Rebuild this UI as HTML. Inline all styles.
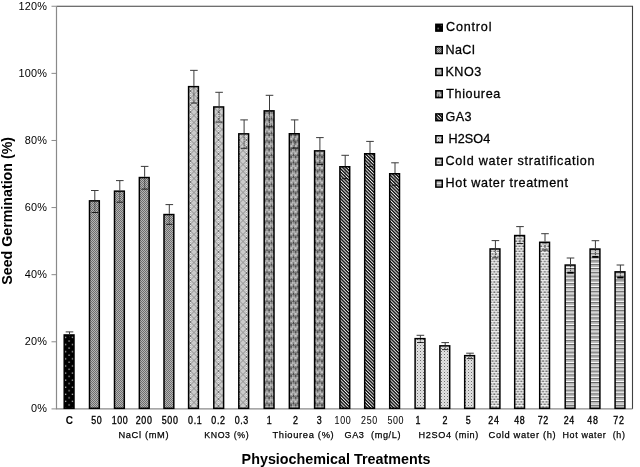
<!DOCTYPE html>
<html><head><meta charset="utf-8"><title>Seed Germination</title>
<style>
html,body{margin:0;padding:0;background:#fff;}
body{width:640px;height:467px;overflow:hidden;}
svg{display:block;}
text{font-family:"Liberation Sans",Arial,sans-serif;fill:#000;}
</style></head><body>
<svg width="640" height="467" viewBox="0 0 640 467">
<defs>
<pattern id="pCtl" width="7.1" height="7.1" patternUnits="userSpaceOnUse" x="64.5" y="336.4">
 <rect width="7.1" height="7.1" fill="#000"/>
 <rect x="0.5" y="0.5" width="1.2" height="1.3" fill="#f0f0f0"/>
 <rect x="3.8" y="4.1" width="1.6" height="0.9" fill="#c8c8c8"/>
</pattern>
<pattern id="pNaCl" width="2" height="2" patternUnits="userSpaceOnUse">
 <rect width="2" height="2" fill="#b4b4b4"/>
 <rect width="1" height="1" fill="#6e6e6e"/><rect x="1" y="1" width="1" height="1" fill="#6e6e6e"/>
</pattern>
<pattern id="pKNO" width="7" height="7" patternUnits="userSpaceOnUse" x="1.5" y="0">
 <rect width="7" height="7" fill="#e6e6e6"/>
 <path d="M0 0h1v1h-1zM2 0h1v1h-1zM4 0h1v1h-1zM6 0h1v1h-1zM1 1h1v1h-1zM3 1h1v1h-1zM5 1h1v1h-1zM0 2h1v1h-1zM2 2h1v1h-1zM4 2h1v1h-1zM6 2h1v1h-1zM1 3h1v1h-1zM3 3h1v1h-1zM5 3h1v1h-1zM0 4h1v1h-1zM2 4h1v1h-1zM4 4h1v1h-1zM6 4h1v1h-1zM1 5h1v1h-1zM3 5h1v1h-1zM5 5h1v1h-1zM0 6h1v1h-1zM2 6h1v1h-1zM4 6h1v1h-1zM6 6h1v1h-1z" fill="#b0b0b0"/>
 <path d="M0 0L7 7M7 0L0 7" stroke="#4a4a4a" stroke-width="0.6"/>
</pattern>
<pattern id="pThio" width="4.4" height="7.3" patternUnits="userSpaceOnUse" x="0.8" y="0">
 <rect width="4.4" height="7.3" fill="#7c7c7c"/>
 <path d="M0 0L4.4 3.65L0 7.3M4.4 0L0 3.65L4.4 7.3" stroke="#cacaca" stroke-width="1.0" fill="none"/>
 <circle cx="2.2" cy="5.5" r="0.85" fill="#a8a8a8"/>
 <circle cx="0" cy="3.65" r="0.9" fill="#2a2a2a"/><circle cx="4.4" cy="3.65" r="0.9" fill="#2a2a2a"/>
 <circle cx="2.2" cy="1.8" r="0.8" fill="#2a2a2a"/>
</pattern>
<pattern id="pGA" width="2.35" height="4" patternUnits="userSpaceOnUse" patternTransform="rotate(-45)">
 <rect width="2.35" height="4" fill="#0c0c0c"/>
 <rect x="0" y="0" width="0.95" height="4" fill="#f4f4f4"/>
</pattern>
<pattern id="pH2" width="3" height="3" patternUnits="userSpaceOnUse">
 <rect width="3" height="3" fill="#e2e2e2"/>
 <rect x="0" y="0" width="1" height="1" fill="#6e6e6e"/>
 <rect x="1.5" y="1.5" width="1" height="1" fill="#b4b4b4"/>
</pattern>
<pattern id="pCold" width="3.6" height="5.1" patternUnits="userSpaceOnUse" x="0.2" y="0.5">
 <rect width="3.6" height="5.1" fill="#f4f4f4"/>
 <rect x="0.2" y="0.4" width="1.6" height="1.1" fill="#3a3a3a"/>
 <rect x="2.0" y="2.95" width="1.6" height="1.1" fill="#3a3a3a"/>
 <rect x="2.0" y="0.4" width="1.6" height="1.1" fill="#b0b0b0"/>
 <rect x="0.2" y="2.95" width="1.6" height="1.1" fill="#b0b0b0"/>
</pattern>
<pattern id="pHot" width="4" height="3.8" patternUnits="userSpaceOnUse" y="1">
 <rect width="4" height="3.8" fill="#bababa"/>
 <rect y="0" width="4" height="1" fill="#fcfcfc"/>
 <rect y="1" width="4" height="0.9" fill="#5a5a5a"/>
</pattern>
</defs>

<path d="M56.5 6.25H632.5V408.9" fill="none" stroke="#404040" stroke-width="1.1"/>
<path d="M56.5 6.25V408.9H632.5" fill="none" stroke="#8a8a8a" stroke-width="1.2"/>
<line x1="51.5" y1="408.90" x2="56.5" y2="408.90" stroke="#8a8a8a" stroke-width="1"/>
<text x="47.1" y="412.20" font-size="10.9" text-anchor="end" letter-spacing="0.2">0%</text>
<line x1="51.5" y1="341.79" x2="56.5" y2="341.79" stroke="#8a8a8a" stroke-width="1"/>
<text x="47.1" y="345.09" font-size="10.9" text-anchor="end" letter-spacing="0.2">20%</text>
<line x1="51.5" y1="274.68" x2="56.5" y2="274.68" stroke="#8a8a8a" stroke-width="1"/>
<text x="47.1" y="277.98" font-size="10.9" text-anchor="end" letter-spacing="0.2">40%</text>
<line x1="51.5" y1="207.57" x2="56.5" y2="207.57" stroke="#8a8a8a" stroke-width="1"/>
<text x="47.1" y="210.88" font-size="10.9" text-anchor="end" letter-spacing="0.2">60%</text>
<line x1="51.5" y1="140.47" x2="56.5" y2="140.47" stroke="#8a8a8a" stroke-width="1"/>
<text x="47.1" y="143.77" font-size="10.9" text-anchor="end" letter-spacing="0.2">80%</text>
<line x1="51.5" y1="73.36" x2="56.5" y2="73.36" stroke="#8a8a8a" stroke-width="1"/>
<text x="47.1" y="76.66" font-size="10.9" text-anchor="end" letter-spacing="0.2">100%</text>
<line x1="51.5" y1="6.25" x2="56.5" y2="6.25" stroke="#8a8a8a" stroke-width="1"/>
<text x="47.1" y="9.55" font-size="10.9" text-anchor="end" letter-spacing="0.2">120%</text>
<rect x="64.20" y="334.95" width="9.8" height="73.35" fill="url(#pCtl)" stroke="#000" stroke-width="1.5"/>
<rect x="89.50" y="200.85" width="9.8" height="207.45" fill="url(#pNaCl)" stroke="#000" stroke-width="1.5"/>
<rect x="114.50" y="191.15" width="9.8" height="217.15" fill="url(#pNaCl)" stroke="#000" stroke-width="1.5"/>
<rect x="139.35" y="177.55" width="9.8" height="230.75" fill="url(#pNaCl)" stroke="#000" stroke-width="1.5"/>
<rect x="164.00" y="214.55" width="9.8" height="193.75" fill="url(#pNaCl)" stroke="#000" stroke-width="1.5"/>
<rect x="188.60" y="86.65" width="9.8" height="321.65" fill="url(#pKNO)" stroke="#000" stroke-width="1.5"/>
<rect x="213.80" y="106.95" width="9.8" height="301.35" fill="url(#pKNO)" stroke="#000" stroke-width="1.5"/>
<rect x="238.80" y="133.85" width="9.8" height="274.45" fill="url(#pKNO)" stroke="#000" stroke-width="1.5"/>
<rect x="264.20" y="110.85" width="9.8" height="297.45" fill="url(#pThio)" stroke="#000" stroke-width="1.5"/>
<rect x="289.35" y="133.75" width="9.8" height="274.55" fill="url(#pThio)" stroke="#000" stroke-width="1.5"/>
<rect x="314.60" y="150.85" width="9.8" height="257.45" fill="url(#pThio)" stroke="#000" stroke-width="1.5"/>
<rect x="339.90" y="166.75" width="9.8" height="241.55" fill="url(#pGA)" stroke="#000" stroke-width="1.5"/>
<rect x="364.70" y="153.75" width="9.8" height="254.55" fill="url(#pGA)" stroke="#000" stroke-width="1.5"/>
<rect x="389.70" y="173.75" width="9.8" height="234.55" fill="url(#pGA)" stroke="#000" stroke-width="1.5"/>
<rect x="415.10" y="338.65" width="9.8" height="69.65" fill="url(#pH2)" stroke="#000" stroke-width="1.5"/>
<rect x="439.90" y="345.85" width="9.8" height="62.45" fill="url(#pH2)" stroke="#000" stroke-width="1.5"/>
<rect x="464.70" y="355.65" width="9.8" height="52.65" fill="url(#pH2)" stroke="#000" stroke-width="1.5"/>
<rect x="490.10" y="248.95" width="9.8" height="159.35" fill="url(#pCold)" stroke="#000" stroke-width="1.5"/>
<rect x="514.70" y="235.55" width="9.8" height="172.75" fill="url(#pCold)" stroke="#000" stroke-width="1.5"/>
<rect x="539.70" y="242.30" width="9.8" height="166.00" fill="url(#pCold)" stroke="#000" stroke-width="1.5"/>
<rect x="565.20" y="265.05" width="9.8" height="143.25" fill="url(#pHot)" stroke="#000" stroke-width="1.5"/>
<rect x="590.10" y="249.05" width="9.8" height="159.25" fill="url(#pHot)" stroke="#000" stroke-width="1.5"/>
<rect x="615.10" y="271.85" width="9.8" height="136.45" fill="url(#pHot)" stroke="#000" stroke-width="1.5"/>
<path d="M69.50 331.90V334.20M65.70 331.90H73.30" stroke="#3a3a3a" stroke-width="1" fill="none"/>
<path d="M69.50 335.70V338.70" stroke="#222" stroke-width="0.8" fill="none" stroke-dasharray="1.2 0.8"/>
<path d="M66.30 338.70H72.70" stroke="#000" stroke-width="0.8" fill="none"/>
<path d="M94.80 190.50V200.10M91.00 190.50H98.60" stroke="#3a3a3a" stroke-width="1" fill="none"/>
<path d="M94.80 201.60V212.50" stroke="#222" stroke-width="0.8" fill="none" stroke-dasharray="1.2 0.8"/>
<path d="M91.60 212.50H98.00" stroke="#000" stroke-width="0.8" fill="none"/>
<path d="M119.80 180.60V190.40M116.00 180.60H123.60" stroke="#3a3a3a" stroke-width="1" fill="none"/>
<path d="M119.80 191.90V202.20" stroke="#222" stroke-width="0.8" fill="none" stroke-dasharray="1.2 0.8"/>
<path d="M116.60 202.20H123.00" stroke="#000" stroke-width="0.8" fill="none"/>
<path d="M144.65 166.40V176.80M140.85 166.40H148.45" stroke="#3a3a3a" stroke-width="1" fill="none"/>
<path d="M144.65 178.30V189.10" stroke="#222" stroke-width="0.8" fill="none" stroke-dasharray="1.2 0.8"/>
<path d="M141.45 189.10H147.85" stroke="#000" stroke-width="0.8" fill="none"/>
<path d="M169.30 204.60V213.80M165.50 204.60H173.10" stroke="#3a3a3a" stroke-width="1" fill="none"/>
<path d="M169.30 215.30V224.30" stroke="#222" stroke-width="0.8" fill="none" stroke-dasharray="1.2 0.8"/>
<path d="M166.10 224.30H172.50" stroke="#000" stroke-width="0.8" fill="none"/>
<path d="M193.90 70.35V85.90M190.10 70.35H197.70" stroke="#3a3a3a" stroke-width="1" fill="none"/>
<path d="M193.90 87.40V103.05" stroke="#222" stroke-width="0.8" fill="none" stroke-dasharray="1.2 0.8"/>
<path d="M190.70 103.05H197.10" stroke="#000" stroke-width="0.8" fill="none"/>
<path d="M219.10 92.30V106.20M215.30 92.30H222.90" stroke="#3a3a3a" stroke-width="1" fill="none"/>
<path d="M219.10 107.70V122.10" stroke="#222" stroke-width="0.8" fill="none" stroke-dasharray="1.2 0.8"/>
<path d="M215.90 122.10H222.30" stroke="#000" stroke-width="0.8" fill="none"/>
<path d="M244.10 119.90V133.10M240.30 119.90H247.90" stroke="#3a3a3a" stroke-width="1" fill="none"/>
<path d="M244.10 134.60V148.30" stroke="#222" stroke-width="0.8" fill="none" stroke-dasharray="1.2 0.8"/>
<path d="M240.90 148.30H247.30" stroke="#000" stroke-width="0.8" fill="none"/>
<path d="M269.50 95.30V110.10M265.70 95.30H273.30" stroke="#3a3a3a" stroke-width="1" fill="none"/>
<path d="M269.50 111.60V126.90" stroke="#222" stroke-width="0.8" fill="none" stroke-dasharray="1.2 0.8"/>
<path d="M266.30 126.90H272.70" stroke="#000" stroke-width="0.8" fill="none"/>
<path d="M294.65 119.90V133.00M290.85 119.90H298.45" stroke="#3a3a3a" stroke-width="1" fill="none"/>
<path d="M294.65 134.50V148.10" stroke="#222" stroke-width="0.8" fill="none" stroke-dasharray="1.2 0.8"/>
<path d="M291.45 148.10H297.85" stroke="#000" stroke-width="0.8" fill="none"/>
<path d="M319.90 137.60V150.10M316.10 137.60H323.70" stroke="#3a3a3a" stroke-width="1" fill="none"/>
<path d="M319.90 151.60V164.60" stroke="#222" stroke-width="0.8" fill="none" stroke-dasharray="1.2 0.8"/>
<path d="M316.70 164.60H323.10" stroke="#000" stroke-width="0.8" fill="none"/>
<path d="M345.20 155.30V166.00M341.40 155.30H349.00" stroke="#3a3a3a" stroke-width="1" fill="none"/>
<path d="M345.20 167.50V178.70" stroke="#222" stroke-width="0.8" fill="none" stroke-dasharray="1.2 0.8"/>
<path d="M342.00 178.70H348.40" stroke="#000" stroke-width="0.8" fill="none"/>
<path d="M370.00 141.40V153.00M366.20 141.40H373.80" stroke="#3a3a3a" stroke-width="1" fill="none"/>
<path d="M370.00 154.50V166.60" stroke="#222" stroke-width="0.8" fill="none" stroke-dasharray="1.2 0.8"/>
<path d="M366.80 166.60H373.20" stroke="#000" stroke-width="0.8" fill="none"/>
<path d="M395.00 162.80V173.00M391.20 162.80H398.80" stroke="#3a3a3a" stroke-width="1" fill="none"/>
<path d="M395.00 174.50V185.20" stroke="#222" stroke-width="0.8" fill="none" stroke-dasharray="1.2 0.8"/>
<path d="M391.80 185.20H398.20" stroke="#000" stroke-width="0.8" fill="none"/>
<path d="M420.40 335.30V337.90M416.60 335.30H424.20" stroke="#3a3a3a" stroke-width="1" fill="none"/>
<path d="M420.40 339.40V342.50" stroke="#222" stroke-width="0.8" fill="none" stroke-dasharray="1.2 0.8"/>
<path d="M417.20 342.50H423.60" stroke="#000" stroke-width="0.8" fill="none"/>
<path d="M445.20 342.60V345.10M441.40 342.60H449.00" stroke="#3a3a3a" stroke-width="1" fill="none"/>
<path d="M445.20 346.60V349.60" stroke="#222" stroke-width="0.8" fill="none" stroke-dasharray="1.2 0.8"/>
<path d="M442.00 349.60H448.40" stroke="#000" stroke-width="0.8" fill="none"/>
<path d="M470.00 353.20V354.90M466.20 353.20H473.80" stroke="#3a3a3a" stroke-width="1" fill="none"/>
<path d="M470.00 356.40V358.60" stroke="#222" stroke-width="0.8" fill="none" stroke-dasharray="1.2 0.8"/>
<path d="M466.80 358.60H473.20" stroke="#000" stroke-width="0.8" fill="none"/>
<path d="M495.40 240.60V248.20M491.60 240.60H499.20" stroke="#3a3a3a" stroke-width="1" fill="none"/>
<path d="M495.40 249.70V257.80" stroke="#222" stroke-width="0.8" fill="none" stroke-dasharray="1.2 0.8"/>
<path d="M492.20 257.80H498.60" stroke="#000" stroke-width="0.8" fill="none"/>
<path d="M520.00 226.60V234.80M516.20 226.60H523.80" stroke="#3a3a3a" stroke-width="1" fill="none"/>
<path d="M520.00 236.30V243.50" stroke="#222" stroke-width="0.8" fill="none" stroke-dasharray="1.2 0.8"/>
<path d="M516.80 243.50H523.20" stroke="#000" stroke-width="0.8" fill="none"/>
<path d="M545.00 233.70V241.55M541.20 233.70H548.80" stroke="#3a3a3a" stroke-width="1" fill="none"/>
<path d="M545.00 243.05V250.10" stroke="#222" stroke-width="0.8" fill="none" stroke-dasharray="1.2 0.8"/>
<path d="M541.80 250.10H548.20" stroke="#000" stroke-width="0.8" fill="none"/>
<path d="M570.50 258.00V264.30M566.70 258.00H574.30" stroke="#3a3a3a" stroke-width="1" fill="none"/>
<path d="M570.50 265.80V272.70" stroke="#222" stroke-width="0.8" fill="none" stroke-dasharray="1.2 0.8"/>
<path d="M567.30 272.70H573.70" stroke="#000" stroke-width="1.9" fill="none"/>
<path d="M595.40 240.70V248.30M591.60 240.70H599.20" stroke="#3a3a3a" stroke-width="1" fill="none"/>
<path d="M595.40 249.80V256.90" stroke="#222" stroke-width="0.8" fill="none" stroke-dasharray="1.2 0.8"/>
<path d="M592.20 256.90H598.60" stroke="#000" stroke-width="1.9" fill="none"/>
<path d="M620.40 265.00V271.10M616.60 265.00H624.20" stroke="#3a3a3a" stroke-width="1" fill="none"/>
<path d="M620.40 272.60V277.50" stroke="#222" stroke-width="0.8" fill="none" stroke-dasharray="1.2 0.8"/>
<path d="M617.20 277.50H623.60" stroke="#000" stroke-width="1.9" fill="none"/>
<text transform="translate(69.47 423.6)" font-size="10.1" text-anchor="middle" fill="#000" font-weight="bold">C</text>
<text transform="translate(96.77 423.6) scale(0.88 1)" font-size="10.1" letter-spacing="0.75" text-anchor="middle" fill="#000" stroke="#000" stroke-width="0.32">50</text>
<text transform="translate(120.06 423.6) scale(0.88 1)" font-size="10.1" letter-spacing="0.75" text-anchor="middle" fill="#000" stroke="#000" stroke-width="0.32">100</text>
<text transform="translate(144.10 423.6) scale(0.88 1)" font-size="10.1" letter-spacing="0.75" text-anchor="middle" fill="#000" stroke="#000" stroke-width="0.32">200</text>
<text transform="translate(170.15 423.6) scale(0.88 1)" font-size="10.1" letter-spacing="0.75" text-anchor="middle" fill="#000" stroke="#000" stroke-width="0.32">500</text>
<text transform="translate(195.19 423.6) scale(0.88 1)" font-size="10.1" letter-spacing="0.75" text-anchor="middle" fill="#000" stroke="#000" stroke-width="0.32">0.1</text>
<text transform="translate(218.48 423.6) scale(0.88 1)" font-size="10.1" letter-spacing="0.75" text-anchor="middle" fill="#000" stroke="#000" stroke-width="0.32">0.2</text>
<text transform="translate(241.78 423.6) scale(0.88 1)" font-size="10.1" letter-spacing="0.75" text-anchor="middle" fill="#000" stroke="#000" stroke-width="0.32">0.3</text>
<text transform="translate(269.57 423.6) scale(0.88 1)" font-size="10.1" letter-spacing="0.75" text-anchor="middle" fill="#000" stroke="#000" stroke-width="0.32">1</text>
<text transform="translate(295.86 423.6) scale(0.88 1)" font-size="10.1" letter-spacing="0.75" text-anchor="middle" fill="#000" stroke="#000" stroke-width="0.32">2</text>
<text transform="translate(319.66 423.6) scale(0.88 1)" font-size="10.1" letter-spacing="0.75" text-anchor="middle" fill="#000" stroke="#000" stroke-width="0.32">3</text>
<text transform="translate(342.95 423.6) scale(0.88 1)" font-size="10.1" letter-spacing="0.75" text-anchor="middle" fill="#555" stroke="#555" stroke-width="0.1">100</text>
<text transform="translate(369.49 423.6) scale(0.88 1)" font-size="10.1" letter-spacing="0.75" text-anchor="middle" fill="#555" stroke="#555" stroke-width="0.1">250</text>
<text transform="translate(395.79 423.6) scale(0.88 1)" font-size="10.1" letter-spacing="0.75" text-anchor="middle" fill="#555" stroke="#555" stroke-width="0.1">500</text>
<text transform="translate(418.33 423.6) scale(0.88 1)" font-size="10.1" letter-spacing="0.75" text-anchor="middle" fill="#000" stroke="#000" stroke-width="0.32">1</text>
<text transform="translate(445.37 423.6) scale(0.88 1)" font-size="10.1" letter-spacing="0.75" text-anchor="middle" fill="#000" stroke="#000" stroke-width="0.32">2</text>
<text transform="translate(468.67 423.6) scale(0.88 1)" font-size="10.1" letter-spacing="0.75" text-anchor="middle" fill="#000" stroke="#000" stroke-width="0.32">5</text>
<text transform="translate(493.96 423.6) scale(0.88 1)" font-size="10.1" letter-spacing="0.75" text-anchor="middle" fill="#000" stroke="#000" stroke-width="0.32">24</text>
<text transform="translate(519.75 423.6) scale(0.88 1)" font-size="10.1" letter-spacing="0.75" text-anchor="middle" fill="#000" stroke="#000" stroke-width="0.32">48</text>
<text transform="translate(543.30 423.6) scale(0.88 1)" font-size="10.1" letter-spacing="0.75" text-anchor="middle" fill="#000" stroke="#000" stroke-width="0.32">72</text>
<text transform="translate(569.34 423.6) scale(0.88 1)" font-size="10.1" letter-spacing="0.75" text-anchor="middle" fill="#000" stroke="#000" stroke-width="0.32">24</text>
<text transform="translate(592.88 423.6) scale(0.88 1)" font-size="10.1" letter-spacing="0.75" text-anchor="middle" fill="#000" stroke="#000" stroke-width="0.32">48</text>
<text transform="translate(618.93 423.6) scale(0.88 1)" font-size="10.1" letter-spacing="0.75" text-anchor="middle" fill="#000" stroke="#000" stroke-width="0.32">72</text>
<text x="118.40" y="438.3" font-size="9.9" letter-spacing="0.7" stroke="#000" stroke-width="0.25" textLength="50.80" lengthAdjust="spacingAndGlyphs">NaCl (mM)</text>
<text x="204.20" y="438.3" font-size="9.9" letter-spacing="0.7" stroke="#000" stroke-width="0.25" textLength="45.00" lengthAdjust="spacingAndGlyphs">KNO3 (%)</text>
<text x="272.40" y="438.3" font-size="9.9" letter-spacing="0.7" stroke="#000" stroke-width="0.25" textLength="62.00" lengthAdjust="spacingAndGlyphs">Thiourea (%)</text>
<text x="344.40" y="438.3" font-size="9.9" letter-spacing="0.7" stroke="#000" stroke-width="0.25" textLength="56.80" lengthAdjust="spacingAndGlyphs">GA3&#160; (mg/L)</text>
<text x="418.60" y="438.3" font-size="9.9" letter-spacing="0.7" stroke="#000" stroke-width="0.25" textLength="60.40" lengthAdjust="spacingAndGlyphs">H2SO4 (min)</text>
<text x="488.50" y="438.3" font-size="9.9" letter-spacing="0.7" stroke="#000" stroke-width="0.25" textLength="67.90" lengthAdjust="spacingAndGlyphs">Cold water (h)</text>
<text x="562.50" y="438.3" font-size="9.9" letter-spacing="0.7" stroke="#000" stroke-width="0.25" textLength="63.00" lengthAdjust="spacingAndGlyphs">Hot water&#160; (h)</text>
<text x="241.6" y="463.6" font-size="14.4" font-weight="bold" textLength="188.9" lengthAdjust="spacingAndGlyphs">Physiochemical Treatments</text>
<text transform="translate(12.4 284.7) rotate(-90)" x="0" y="0" font-size="15" font-weight="bold" textLength="147.7" lengthAdjust="spacingAndGlyphs">Seed Germination (%)</text>
<rect x="435.85" y="24.30" width="6.4" height="6.8" fill="url(#pCtl)" stroke="#000" stroke-width="1.5"/>
<text x="446" y="31.3" font-size="12.6" stroke="#000" stroke-width="0.28" textLength="45.5" lengthAdjust="spacing">Control</text>
<rect x="435.85" y="46.70" width="6.4" height="6.8" fill="url(#pNaCl)" stroke="#000" stroke-width="1.5"/>
<text x="445.4" y="53.7" font-size="12.6" stroke="#000" stroke-width="0.28" textLength="29.3" lengthAdjust="spacing">NaCl</text>
<rect x="435.85" y="68.60" width="6.4" height="6.8" fill="url(#pKNO)" stroke="#000" stroke-width="1.5"/>
<text x="445.4" y="75.6" font-size="12.6" stroke="#000" stroke-width="0.28" textLength="35.9" lengthAdjust="spacing">KNO3</text>
<rect x="435.85" y="90.80" width="6.4" height="6.8" fill="url(#pThio)" stroke="#000" stroke-width="1.5"/>
<text x="446.2" y="97.8" font-size="12.6" stroke="#000" stroke-width="0.28" textLength="54.1" lengthAdjust="spacing">Thiourea</text>
<rect x="435.85" y="113.90" width="6.4" height="6.8" fill="url(#pGA)" stroke="#000" stroke-width="1.5"/>
<text x="445.6" y="120.9" font-size="12.6" stroke="#000" stroke-width="0.28" textLength="25.9" lengthAdjust="spacing">GA3</text>
<rect x="435.85" y="135.75" width="6.4" height="6.8" fill="url(#pH2)" stroke="#000" stroke-width="1.5"/>
<text x="448.5" y="142.75" font-size="12.6" stroke="#000" stroke-width="0.28" textLength="41.8" lengthAdjust="spacing">H2SO4</text>
<rect x="435.85" y="158.30" width="6.4" height="6.8" fill="url(#pCold)" stroke="#000" stroke-width="1.5"/>
<text x="445.5" y="165.3" font-size="12.6" stroke="#000" stroke-width="0.28" textLength="149.0" lengthAdjust="spacing">Cold water stratification</text>
<rect x="435.85" y="180.30" width="6.4" height="6.8" fill="url(#pHot)" stroke="#000" stroke-width="1.5"/>
<text x="445.5" y="187.3" font-size="12.6" stroke="#000" stroke-width="0.28" textLength="122.5" lengthAdjust="spacing">Hot water treatment</text>
</svg>
</body></html>
